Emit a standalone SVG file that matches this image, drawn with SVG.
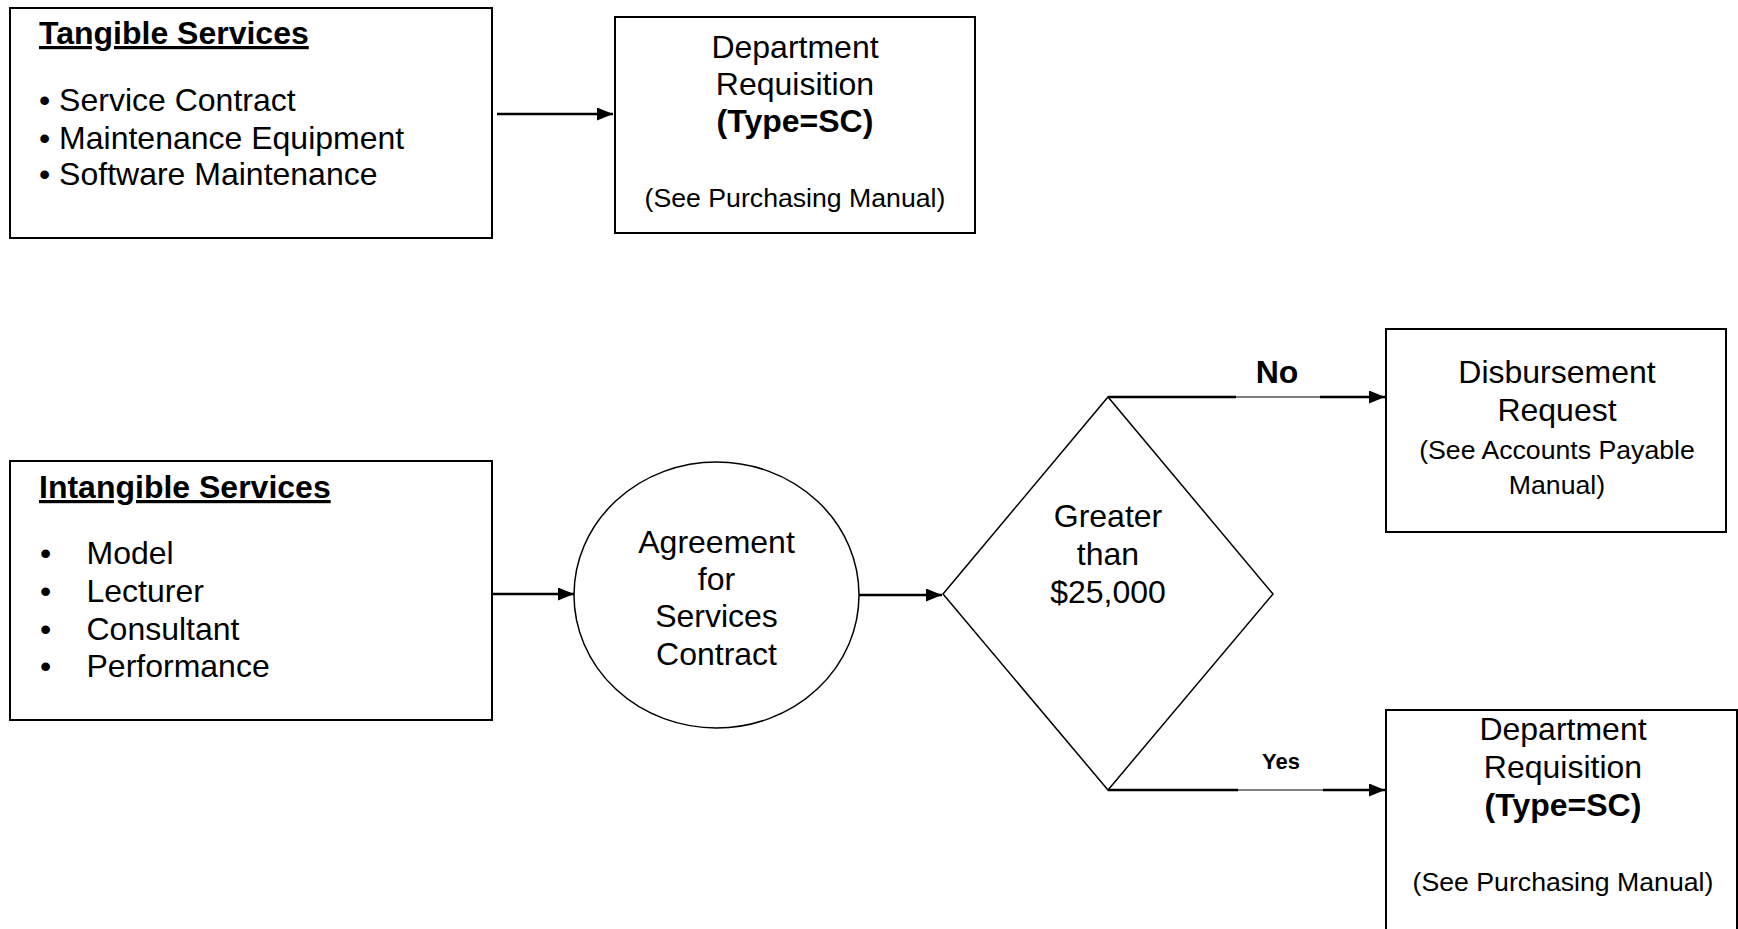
<svg xmlns="http://www.w3.org/2000/svg" width="1738" height="929" viewBox="0 0 1738 929">
<defs>
<style>
.box{fill:#fff;stroke:#000;stroke-width:2}
.shape{fill:#fff;stroke:#000;stroke-width:1.5}
.t{font-family:"Liberation Sans",Arial,sans-serif;font-size:32px;fill:#000}
.s{font-size:26.67px}
.y{font-size:22px}
.b{font-weight:bold}
.c{text-anchor:middle}
.u{text-decoration:underline}
.ln{stroke:#000;stroke-width:2.5;fill:none}
.thin{stroke:#000;stroke-width:1;fill:none}
</style>
<marker id="ah" viewBox="0 0 16 13" refX="16" refY="6.5" markerWidth="16" markerHeight="13" markerUnits="userSpaceOnUse" orient="auto">
<path d="M0,0 L16,6.5 L0,13 z" fill="#000"/>
</marker>
</defs>
<rect width="1738" height="929" fill="#fff"/>
<g id="tangible">
<rect class="box" x="10" y="8" width="482" height="230"/>
<text class="t b u" x="39" y="44">Tangible Services</text>
<text class="t" x="39" y="111">• Service Contract</text>
<text class="t" x="39" y="148.5">• Maintenance Equipment</text>
<text class="t" x="39" y="185">• Software Maintenance</text>
</g>
<g id="deptreq1">
<rect class="box" x="615" y="17" width="360" height="216"/>
<text class="t c" x="795" y="57.5">Department</text>
<text class="t c" x="795" y="95">Requisition</text>
<text class="t c b" x="795" y="132">(Type=SC)</text>
<text class="t s c" x="795" y="207">(See Purchasing Manual)</text>
</g>
<g id="intangible">
<rect class="box" x="10" y="461" width="482" height="259"/>
<text class="t b u" x="39" y="498">Intangible Services</text>
<text class="t" x="40" y="564">•</text>
<text class="t" x="86.5" y="564">Model</text>
<text class="t" x="40" y="602">•</text>
<text class="t" x="86.5" y="602">Lecturer</text>
<text class="t" x="40" y="640">•</text>
<text class="t" x="86.5" y="640">Consultant</text>
<text class="t" x="40" y="677">•</text>
<text class="t" x="86.5" y="677">Performance</text>
</g>
<g id="agreement">
<ellipse class="shape" cx="716.5" cy="595" rx="142.5" ry="133"/>
<text class="t c" x="716.5" y="553">Agreement</text>
<text class="t c" x="716.5" y="590">for</text>
<text class="t c" x="716.5" y="627">Services</text>
<text class="t c" x="716.5" y="665">Contract</text>
</g>
<g id="decision">
<polygon class="shape" points="943,594 1108,397 1273,594 1108,790"/>
<text class="t c" x="1108" y="527">Greater</text>
<text class="t c" x="1108" y="565">than</text>
<text class="t c" x="1108" y="603">$25,000</text>
</g>
<g id="disbursement">
<rect class="box" x="1386" y="329" width="340" height="203"/>
<text class="t c" x="1557" y="383">Disbursement</text>
<text class="t c" x="1557" y="421">Request</text>
<text class="t s c" x="1557" y="459">(See Accounts Payable</text>
<text class="t s c" x="1557" y="494">Manual)</text>
</g>
<g id="deptreq2">
<rect class="box" x="1386" y="710" width="351" height="240"/>
<text class="t c" x="1563" y="740">Department</text>
<text class="t c" x="1563" y="778">Requisition</text>
<text class="t c b" x="1563" y="816">(Type=SC)</text>
<text class="t s c" x="1563" y="891">(See Purchasing Manual)</text>
</g>
<g id="connectors">
<line class="ln" x1="497" y1="114" x2="613" y2="114" marker-end="url(#ah)"/>
<line class="ln" x1="492" y1="594" x2="574" y2="594" marker-end="url(#ah)"/>
<line class="ln" x1="859" y1="595" x2="942" y2="595" marker-end="url(#ah)"/>
<line class="ln" x1="1108" y1="397" x2="1236" y2="397"/>
<line class="thin" x1="1236" y1="397" x2="1320" y2="397"/>
<line class="ln" x1="1320" y1="397" x2="1385" y2="397" marker-end="url(#ah)"/>
<text class="t b c" x="1277" y="383">No</text>
<line class="ln" x1="1108" y1="790" x2="1238" y2="790"/>
<line class="thin" x1="1238" y1="790" x2="1323" y2="790"/>
<line class="ln" x1="1323" y1="790" x2="1385" y2="790" marker-end="url(#ah)"/>
<text class="t b c y" x="1281" y="769">Yes</text>
</g>
</svg>
